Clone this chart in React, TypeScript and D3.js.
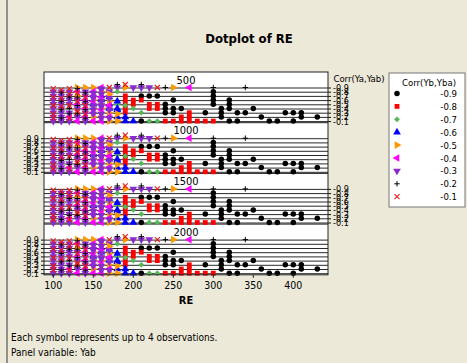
import React from 'react';
import * as d3 from 'd3';

// ---- data ----
const panelLabels = ['500', '1000', '1500', '2000'];
const rowLabels = ['-0.9', '-0.8', '-0.7', '-0.6', '-0.5', '-0.4', '-0.3', '-0.2', '-0.1']; // Corr(Ya,Yab), top to bottom
const seriesLabels = ['-0.9', '-0.8', '-0.7', '-0.6', '-0.5', '-0.4', '-0.3', '-0.2', '-0.1']; // Corr(Yb,Yba)
const xTicks = [100, 150, 200, 250, 300, 350, 400];

// RE values per Corr(Ya,Yab) row (index 0 = -0.9 ... 8 = -0.1)
const reM09 = [[], [300], [210, 220, 230, 300], [250, 300, 320], [240, 300, 320], [240, 250, 260, 310, 320, 350], [240, 250, 290, 310, 330, 340, 390, 400, 410], [310, 360, 410, 430], [210, 320, 330, 370, 380, 400]];
const reM08 = [[], [], [190], [190, 200, 210], [190, 200, 220, 230], [190, 220, 230], [190, 270], [260, 270], [240, 250, 260, 270, 280, 290, 300]];
const reM07 = [[], [180], [], [170], [180], [190, 200], [180, 210], [], [220, 230]];
const reM06 = [[], [], [160], [160, 170], [150, 170, 180], [170, 180], [180], [180, 190], [190, 200]];
const reM05 = [[130, 140, 150, 190, 250], [160], [130, 160], [150, 170], [160, 170], [150, 160], [160, 170], [150, 160, 180], [170, 180]];
const reM04 = [[160, 270], [130, 150], [150, 170], [140, 160], [130, 150], [140, 170], [150, 160], [120, 140, 170], [130, 150, 160]];
const reM03 = [[180, 200, 210, 220], [100, 110, 120, 140, 160, 170], [100, 110, 120, 140, 150, 160], [100, 110, 120, 130, 150, 160], [100, 110, 120, 140, 150, 160, 170], [100, 110, 130, 150, 160], [100, 110, 120, 140, 150, 160, 170], [100, 110, 130, 150, 160], [100, 110, 120, 140, 160, 170]];
const reM02 = [[180, 210, 240, 300, 340], [130], [110, 140], [120, 130], [110, 140], [120, 130], [110, 140], [120, 130], [110, 140]];
const reM01 = [[170, 190, 230], [100, 120], [110, 130], [100, 120, 140], [110, 130], [100, 120, 140], [110, 130], [100, 130, 140], [100, 120]];
const seriesData = [reM09, reM08, reM07, reM06, reM05, reM04, reM03, reM02, reM01];

// ---- styles ----
const BG = '#ECE9D8';
const FONT = "'DejaVu Sans Condensed', 'DejaVu Sans', sans-serif";
const colors = ['#000000', '#FF0000', '#55B855', '#0000FF', '#FF9900', '#FF00FF', '#8A2BD0', '#000000', '#E81818'];
const kinds = ['circle', 'square', 'diamond', 'up', 'right', 'left', 'down', 'plus', 'x'];

const W = 467, H = 363;
const plotL = 44, plotR = 328, plotT = 72, panelH = 50.7;
const stripH = 16, rowGap = 4.2, stackStep = 3;
const plotB = plotT + panelH * 4;

const x = d3.scaleLinear().domain([100, 400]).range([53.3, 293.3]);
const rowY = (p: number, r: number) => plotT + p * panelH + stripH + r * rowGap;

function Sym({ kind, color, cx, cy }: { kind: string; color: string; cx: number; cy: number }) {
  if (kind === 'plus') {
    return <path d={`M${cx - 2.7},${cy}H${cx + 2.7}M${cx},${cy - 2.7}V${cy + 2.7}`} stroke={color} strokeWidth={1} fill="none" />;
  }
  if (kind === 'x') {
    return <path d={`M${cx - 2.5},${cy - 2.5}L${cx + 2.5},${cy + 2.5}M${cx - 2.5},${cy + 2.5}L${cx + 2.5},${cy - 2.5}`} stroke={color} strokeWidth={1.1} fill="none" />;
  }
  let gen = d3.symbol();
  let rot = 0;
  if (kind === 'circle') gen = d3.symbol(d3.symbolCircle, 24);
  else if (kind === 'square') gen = d3.symbol(d3.symbolSquare, 23);
  else if (kind === 'diamond') { gen = d3.symbol(d3.symbolSquare, 17); rot = 45; }
  else if (kind === 'up') gen = d3.symbol(d3.symbolTriangle, 26);
  else if (kind === 'right') { gen = d3.symbol(d3.symbolTriangle, 26); rot = 90; }
  else if (kind === 'left') { gen = d3.symbol(d3.symbolTriangle, 26); rot = -90; }
  else if (kind === 'down') { gen = d3.symbol(d3.symbolTriangle, 26); rot = 180; }
  return <path d={gen() as string} fill={color} transform={`translate(${cx},${cy}) rotate(${rot})`} />;
}

export default function App() {
  const marks: JSX.Element[] = [];
  panelLabels.forEach((_, p) => {
    rowLabels.forEach((_, r) => {
      const counts = new Map<number, number>();
      seriesData.forEach((ser, s) => {
        ser[r].forEach((v, i) => {
          const k = counts.get(v) || 0;
          counts.set(v, k + 1);
          marks.push(
            <Sym key={`${p}-${r}-${s}-${i}`} kind={kinds[s]} color={colors[s]} cx={x(v)} cy={rowY(p, r) - 0.5 - k * stackStep} />
          );
        });
      });
    });
  });

  return (
    <svg width={W} height={H} style={{ position: 'absolute', left: 0, top: 0 }} fontFamily={FONT}>
      <rect x={0} y={0} width={W} height={H} fill={BG} />
      <line x1={7} y1={0} x2={7} y2={H} stroke="#555" strokeWidth={1.2} />
      <text x={249} y={43} textAnchor="middle" fontSize={13} fontWeight="bold">Dotplot of RE</text>

      <rect x={plotL} y={plotT} width={plotR - plotL} height={plotB - plotT} fill="#fff" />
      {panelLabels.map((lab, p) => {
        const top = plotT + p * panelH;
        const right = p % 2 === 0;
        return (
          <g key={lab}>
            <text x={(plotL + plotR) / 2} y={top + 11.5} textAnchor="middle" fontSize={11}>{lab}</text>
            {p > 0 && <line x1={plotL} x2={plotR} y1={top} y2={top} stroke="#222" />}
            {rowLabels.map((rl, r) => (
              <g key={rl}>
                <line x1={plotL} x2={plotR} y1={rowY(p, r)} y2={rowY(p, r)} stroke="#111" strokeWidth={0.9} />
                {right ? (
                  <>
                    <line x1={plotR} x2={plotR + 3} y1={rowY(p, r)} y2={rowY(p, r)} stroke="#111" />
                    <text x={plotR + 5} y={rowY(p, r) + 3} fontSize={9}>{rl}</text>
                  </>
                ) : (
                  <>
                    <line x1={plotL - 3} x2={plotL} y1={rowY(p, r)} y2={rowY(p, r)} stroke="#111" />
                    <text x={plotL - 5} y={rowY(p, r) + 3} fontSize={9} textAnchor="end">{rl}</text>
                  </>
                )}
              </g>
            ))}
          </g>
        );
      })}
      {marks}
      <rect x={plotL} y={plotT} width={plotR - plotL} height={plotB - plotT} fill="none" stroke="#222" />

      {xTicks.map(t => (
        <g key={t}>
          <line x1={x(t)} x2={x(t)} y1={plotB} y2={plotB + 3} stroke="#222" />
          <text x={x(t)} y={plotB + 14} textAnchor="middle" fontSize={10.5}>{t}</text>
        </g>
      ))}
      <text x={(plotL + plotR) / 2} y={304} textAnchor="middle" fontSize={11} fontWeight="bold">RE</text>
      <text x={359} y={82} textAnchor="middle" fontSize={9.5}>Corr(Ya,Yab)</text>

      <rect x={389} y={73} width={76} height={134} fill="#fff" stroke="#777" />
      <text x={429} y={86} textAnchor="middle" fontSize={9.5}>Corr(Yb,Yba)</text>
      {seriesLabels.map((sl, s) => (
        <g key={sl}>
          <Sym kind={kinds[s]} color={colors[s]} cx={397} cy={93.5 + s * 12.9} />
          <text x={457} y={97 + s * 12.9} textAnchor="end" fontSize={9.5}>{sl}</text>
        </g>
      ))}

      <text x={11} y={341} fontSize={10}>Each symbol represents up to 4 observations.</text>
      <text x={11} y={356} fontSize={10}>Panel variable: Yab</text>
    </svg>
  );
}
